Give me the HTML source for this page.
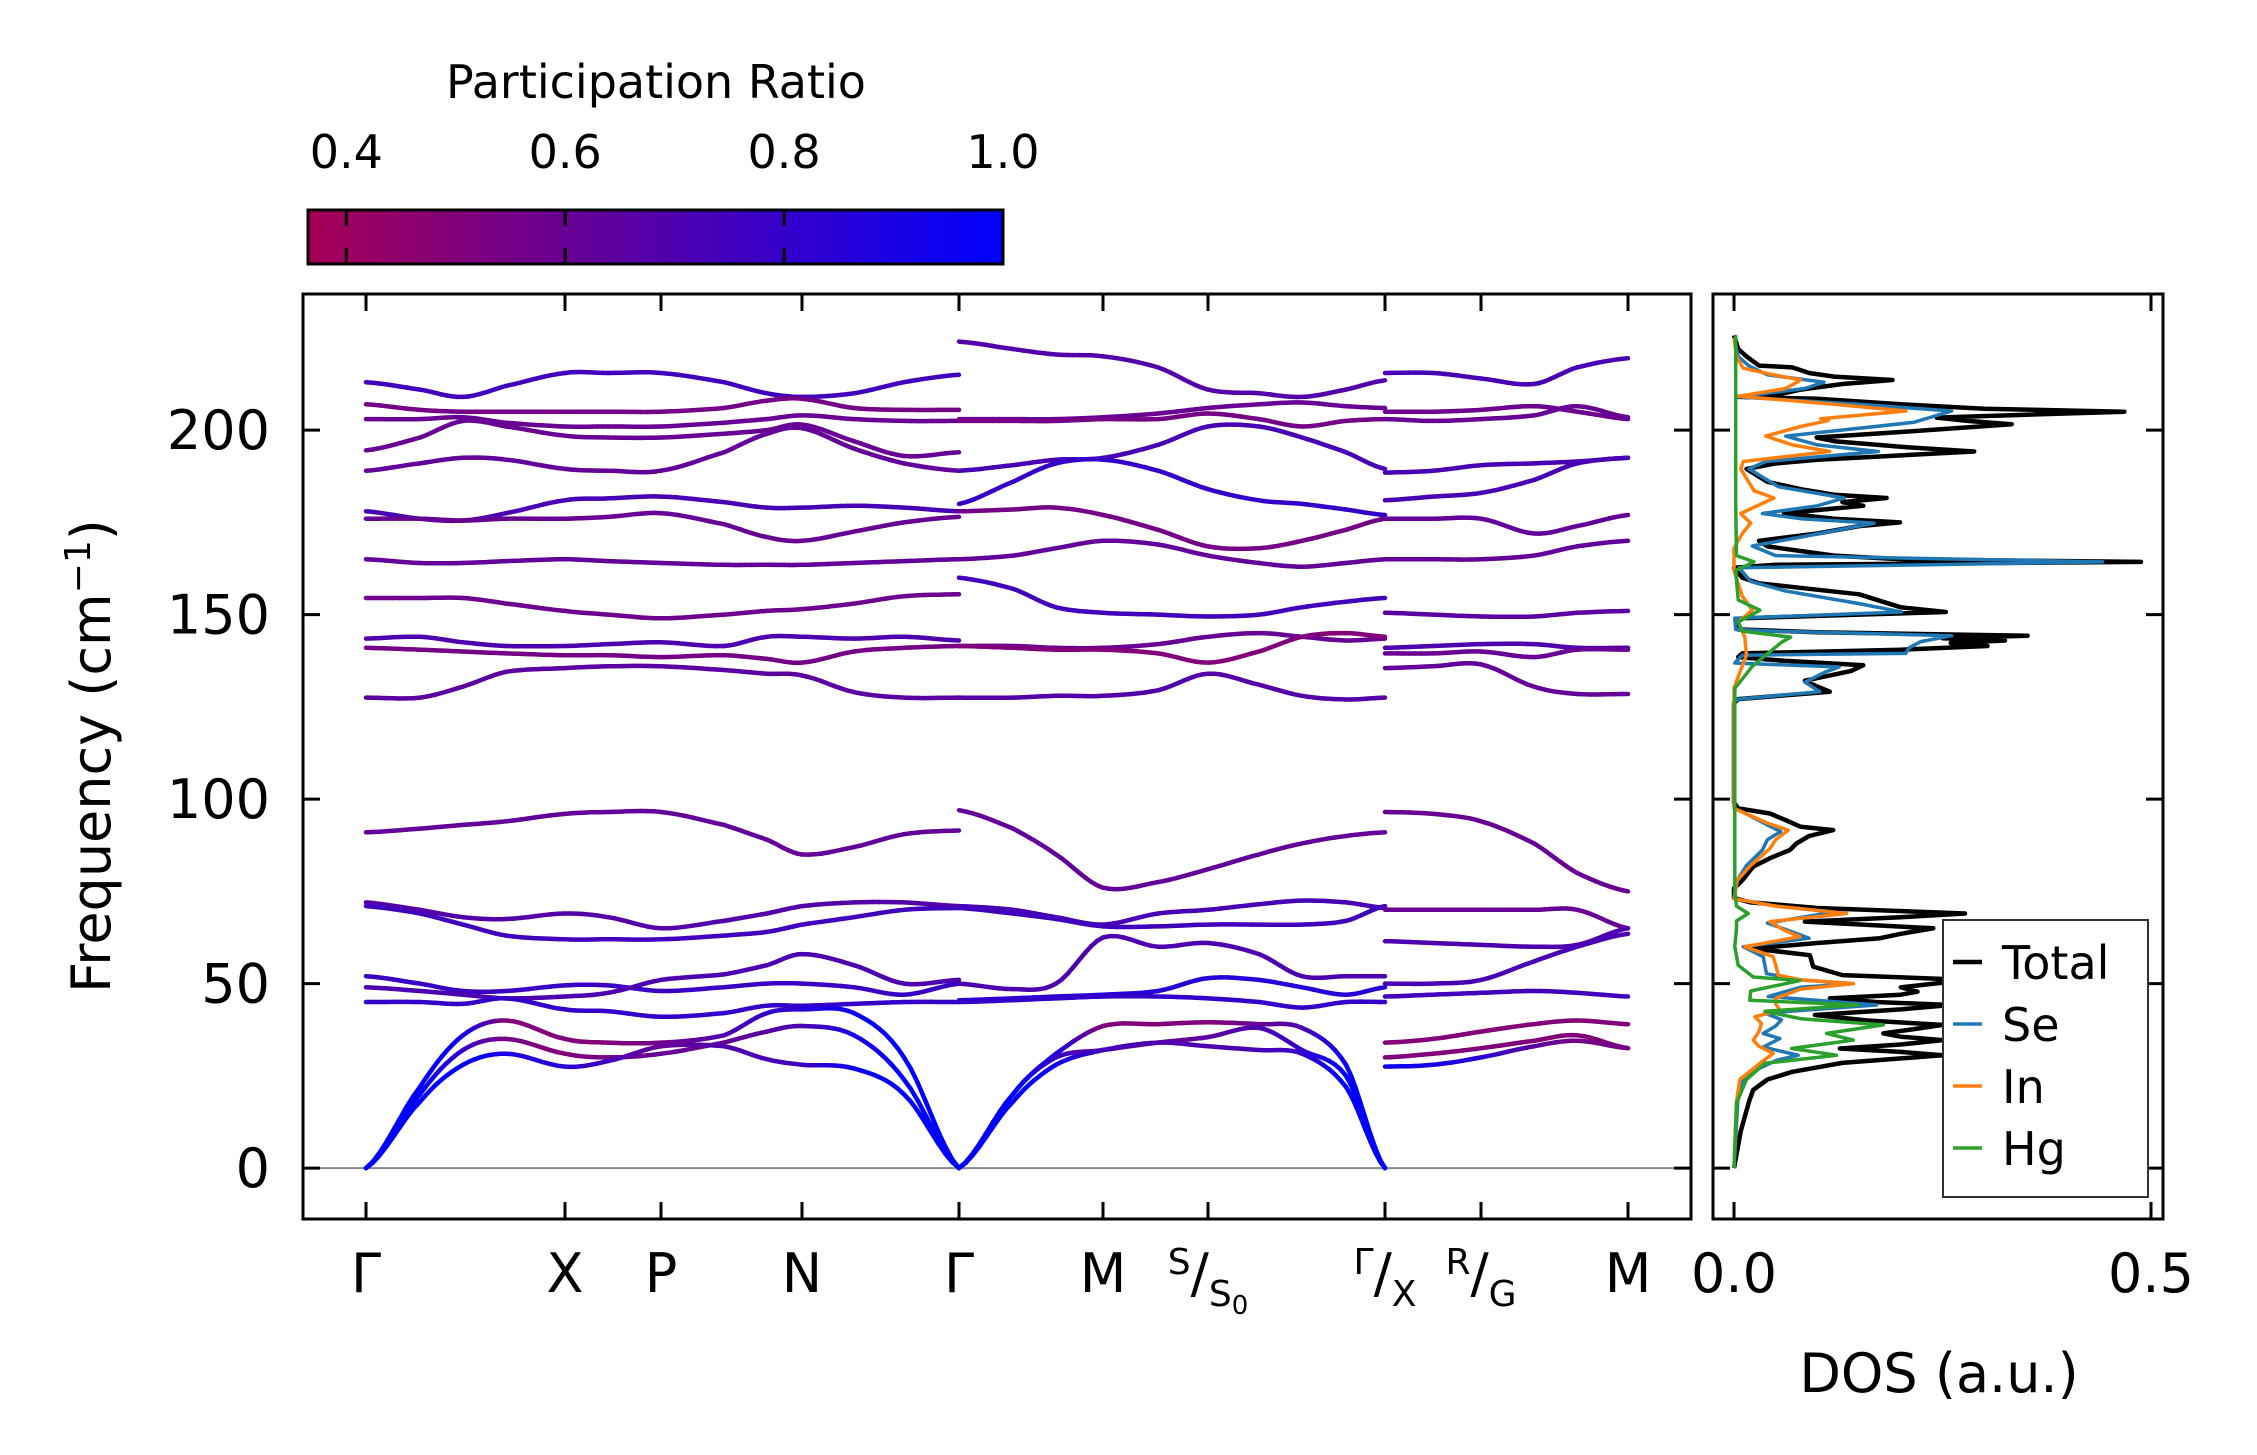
<!DOCTYPE html>
<html><head><meta charset="utf-8"><style>
html,body{margin:0;padding:0;background:#fff;}
svg{display:block;font-family:"DejaVu Sans","Liberation Sans",sans-serif;}
</style></head><body>
<svg id="fig" width="2257" height="1455" viewBox="0 0 2257 1455" xmlns="http://www.w3.org/2000/svg">
<defs><linearGradient id="cbgrad" x1="0" x2="1" y1="0" y2="0"></linearGradient>
<clipPath id="mainclip"><rect x="303" y="294" width="1388" height="925"/></clipPath>
<clipPath id="dosclip"><rect x="1713" y="294" width="450" height="925"/></clipPath></defs>
<g id="colorbar"></g>
<g id="main"></g>
<g id="dos"></g>
</svg>
<script>
// ---------- data ----------
const nodeK = [0, 1.99, 2.95, 4.36, 5.93, 7.37, 8.42, 10.19, 11.15, 12.62];
const nodeLabels = ["Γ","X","P","N","Γ","M","S|S0","Γ|X","R|G","M"];
const yTicks = [0, 50, 100, 150, 200];
const cbTicks = [0.4, 0.6, 0.8, 1.0];
const cbTickLabels = ["0.4","0.6","0.8","1.0"];
const dosTicks = [0.0, 0.5];
const dosTickLabels = ["0.0","0.5"];

const p1K = [0, 0.54, 0.97, 1.40, 1.99, 2.42, 2.95, 3.58, 4.01, 4.36, 4.88, 5.38, 5.93];
const p1Bands = [
 [213,211,209,212,215.5,215.5,215.5,213,210,209,210,213,215],
 [207,205.5,205,205,205,205,205,206,208,208.5,206,205.5,205.5],
 [203,203,203.5,202,201,201,201,202,203,204,203,202.5,202.5],
 [194.5,198,202.5,201,198.5,198,198,199,200,201.5,197,193,194],
 [189,191,192.5,192,189.5,189,189,194,199,200.5,195,191,189],
 [178,176,175.5,177.5,181,181.5,182,180.5,179,179,179.5,179,178],
 [176,176,175.5,176,176,176.5,177.5,174.5,171,170,172.5,175,176.5],
 [165,164,164,164.5,165,164.5,164,163.5,163.5,163.5,164,164.5,165],
 [154.5,154.5,154.5,153,151,150,149,150,151,151.5,153,155,155.5],
 [143.5,144,142.5,141.5,141.5,142,142.5,141.5,144,144,143.5,144,143],
 [141,140.5,140,139.5,139,139,138.5,139,138,137,140,141,141.5],
 [127.5,127.5,130.5,134.5,135.5,136,136,135,134,133.5,129,127.5,127.5],
 [91,92,93,94,96,96.5,96.5,93,89,85,87,90.5,91.5],
 [72,70,68,67.5,69,68,65,67,69,71,72,72,71],
 [71,69,66,63,62,62,62,63,64,66,68,70,70.5],
 [52,50,48,48,49.5,49.5,48,49,50,50,49,47,50],
 [49,48,47,46,46.5,47.5,51,52.5,55,58,55,50,51],
 [45,45,44.5,46,43,42.5,41,42,44,44,44.5,45,45],
 [0,22,36,40,35,34,34,36,42,43,42,30,0],
 [0,20,32,35,31,30,31,34,37,38.5,36,24,0],
 [0,18,28,31,27.5,29,33,33,29.5,28,27,20,0]
];
const p1PR = [0.75,0.55,0.6,0.6,0.62,0.72,0.6,0.62,0.58,0.7,0.55,0.65,0.62,0.68,0.75,0.78,0.7,0.8,
 [1,1,0.95,0.5,0.5,0.5,0.55,0.7,0.8,0.85,0.95,1,1],
 [1,1,0.8,0.55,0.5,0.55,0.6,0.6,0.65,0.7,0.9,1,1],
 [1,1,1,0.9,0.85,0.75,0.6,0.7,0.72,0.75,0.95,1,1]];

const p2K = [5.93, 6.47, 6.90, 7.37, 7.92, 8.42, 8.93, 9.36, 9.80, 10.19];
const p2Bands = [
 [224,222,220.5,220,217,211,210,209,211,213.5],
 [203,203,203,203.5,204.5,206,207,207.5,206.5,206],
 [202.5,202.5,202.5,203,203,204.5,203,201,202.5,203],
 [189,190.5,192,192.5,196,201,201,198,194,189.5],
 [180,186,191,192,189,184,181,180,178.5,177],
 [178,178.5,179,177,173,168.5,168,170,173,176],
 [165,166,168,170,169,166,164,163,164,165],
 [160,157,152,150.5,150,149.5,150,152,153.5,154.5],
 [141.5,141.5,141,141,142,144,145,144,143,143.5],
 [141.5,141,140.5,140.5,139.5,137,140,144,145,144],
 [127.5,127.5,128,128,129.5,134,131,128,127,127.5],
 [97,92,85,76,77.5,81,85,88,90,91],
 [71,70,68,66,69,70,71.5,72.5,72,70.5],
 [70.5,69,67.5,65.5,65.5,66,66,66,67,71],
 [50,48.5,50,62.5,60,61,58,52,52,52],
 [45.5,46,46.5,47,48,51.5,51,49,47,49],
 [45,45.5,46,46.5,46.5,46,45,43.5,45,45],
 [0,20,31,38.5,39,39.5,39,38,28,0],
 [0,20,30,32,34,35.5,38,32,25,0],
 [0,18,28,32,34,33,32,31,22,0]
];
const p2PR = [0.68,0.6,0.55,0.72,0.8,0.55,0.62,0.75,0.6,0.5,0.68,0.62,0.72,0.75,0.7,0.85,0.8,
 [1,1,0.9,0.5,0.5,0.5,0.6,0.7,0.95,1],
 [1,1,0.8,0.6,0.6,0.65,0.7,0.8,1,1],
 [1,1,0.95,0.75,0.7,0.7,0.72,0.8,1,1]];

const p3K = [10.19, 10.67, 11.15, 11.68, 12.11, 12.62];
const p3Bands = [
 [215.5,215.5,214,212.5,217,219.5],
 [205,205,205.5,206.5,205,203],
 [203,202.5,203,204,206.5,203.5],
 [188.5,189,190.5,191,191.5,192.5],
 [181,182,183,186.5,191,192.5],
 [176,176,176,172,174,177],
 [165,165,165,166,168.5,170],
 [150.5,150,149.5,149.5,150.5,151],
 [141,141.5,142,142,141,141],
 [139.5,139.5,140,138.5,140.5,140.5],
 [135.5,136,136.5,130.5,128.5,128.5],
 [96.5,96,94,88,80,75],
 [70,70,70,70,70,65],
 [61.5,61,60.5,60,60.5,65],
 [50,50,51,56,60,63.5],
 [46.5,47,47.5,48,47.5,46.5],
 [34,35,37,39,40,39],
 [30,31,32.5,34.5,36,32.5],
 [27.5,28,30,33,34.5,32.5]
];
const p3PR = [0.72,0.58,0.6,0.72,0.72,0.62,0.62,0.65,0.7,0.6,0.62,0.6,0.6,0.7,0.72,0.75,0.5,0.5,[0.95,0.92,0.85,0.65,0.55,0.55]];

const dosTotal = [[0,0],[10,0.008],[13.9,0.013],[18,0.018],[21.2,0.023],[24,0.04],[26.1,0.07],[28.5,0.13],[30.6,0.25],[31.5,0.2],[32.4,0.127],[33.5,0.2],[34.7,0.25],[35.6,0.2],[36.5,0.179],[37.8,0.22],[38.8,0.25],[40,0.16],[41.5,0.097],[43,0.2],[44.2,0.26],[45,0.17],[46,0.115],[47,0.2],[47.8,0.22],[49,0.2],[50,0.24],[51,0.28],[52.3,0.13],[54.6,0.095],[57.7,0.091],[59.5,0.023],[61,0.1],[62.3,0.175],[63.5,0.2],[65,0.239],[66.8,0.085],[68,0.2],[69,0.277],[70.5,0.1],[72,0.02],[73.2,0],[75.8,0],[78,0.01],[81.7,0.023],[84,0.043],[86.2,0.067],[88,0.075],[90,0.09],[91.6,0.119],[92.5,0.08],[94.4,0.061],[96.1,0.043],[97.5,0.005],[99,0],[126,0],[127.1,0.005],[129.1,0.115],[130.5,0.1],[132.1,0.085],[134.7,0.14],[136.3,0.155],[137.5,0.06],[138.5,0.005],[139.5,0.01],[140.5,0.2],[141.5,0.304],[142.3,0.26],[143,0.325],[143.6,0.25],[144.3,0.352],[145.2,0.1],[146,0.005],[148,0.005],[149,0.01],[150,0.15],[150.7,0.254],[152,0.2],[155.5,0.15],[157,0.09],[158.5,0.03],[160,0.01],[162.7,0],[163.5,0.05],[164.3,0.488],[165,0.2],[166,0.12],[168.5,0.04],[170,0.03],[172,0.1],[174,0.15],[175,0.199],[176,0.12],[177.5,0.06],[179.5,0.155],[180.5,0.13],[181.6,0.183],[182.5,0.12],[184,0.08],[186,0.04],[189.5,0.015],[191,0.05],[192,0.1],[194.2,0.288],[195.5,0.2],[197,0.12],[198,0.099],[199.5,0.2],[201.6,0.333],[202.5,0.28],[203.4,0.243],[204.2,0.35],[205,0.468],[205.8,0.3],[207,0.2],[208.5,0.1],[209,0.005],[209.5,0.05],[211,0.08],[212.5,0.13],[213.6,0.19],[214.5,0.12],[215.5,0.09],[217,0.07],[217.5,0.03],[220,0.015],[222,0.005],[225.7,0]];
const dosSe = [[0,0],[20,0.005],[23.6,0.011],[27,0.03],[29.2,0.051],[30.6,0.077],[32.8,0.035],[35.1,0.055],[36.5,0.035],[38.5,0.05],[40.2,0.057],[42,0.037],[44.2,0.171],[46.5,0.041],[49,0.08],[50,0.143],[51,0.08],[52.7,0.039],[57.3,0.035],[60,0.011],[62.3,0.09],[64,0.07],[66.4,0.04],[69.4,0.12],[71,0.05],[73,0],[78,0.004],[82,0.015],[86.2,0.034],[89,0.04],[91.2,0.056],[93,0.04],[96,0.015],[97.5,0],[126.5,0],[127.1,0.006],[129.1,0.103],[131.7,0.085],[134.5,0.11],[135.8,0.126],[136.9,0.001],[139,0.01],[139.5,0.206],[141,0.21],[142.7,0.224],[144.3,0.261],[145.5,0.05],[146,0.002],[149,0.001],[150.7,0.201],[153,0.15],[156.4,0.062],[159,0.02],[162.7,0.006],[164.3,0.442],[166,0.05],[168.6,0.022],[171,0.08],[174.8,0.168],[176,0.08],[177.4,0.034],[179.5,0.1],[181.6,0.132],[184.7,0.053],[189.5,0.018],[191.5,0.038],[194.2,0.173],[196,0.1],[198.4,0.062],[202.1,0.215],[205.2,0.261],[207,0.15],[209,0.005],[211.3,0.085],[213,0.108],[215,0.04],[217.4,0.018],[220,0.005],[225,0]];
const dosIn = [[0,0],[18,0.003],[24,0.007],[28.4,0.031],[31.1,0.047],[33,0.03],[34.7,0.023],[37,0.03],[39.2,0.033],[41,0.025],[42.8,0.055],[44.5,0.05],[46,0.05],[48.5,0.08],[50,0.143],[51,0.08],[52.3,0.053],[55,0.05],[57.3,0.047],[60,0.013],[62.7,0.079],[64.5,0.06],[66.8,0.043],[69,0.135],[71,0.05],[73,0],[78,0.004],[82,0.02],[86.6,0.043],[89,0.05],[91.6,0.065],[93.5,0.04],[96,0.015],[97.5,0],[130,0],[135,0.008],[139,0.015],[143.9,0.013],[148,0.005],[151.2,0.022],[155,0.01],[162,0],[168,0],[172,0.01],[174.8,0.02],[177.4,0.008],[181.6,0.048],[183.6,0.024],[189.5,0.008],[191.5,0.011],[194.2,0.115],[196,0.07],[198.4,0.038],[201,0.08],[202.6,0.113],[203.1,0.104],[205.2,0.206],[207,0.12],[209.2,0.006],[211.3,0.062],[213.6,0.08],[215.2,0.043],[216.8,0.011],[220,0.003],[225,0]];
const dosHg = [[0,0],[17.6,0.003],[24,0.015],[28.4,0.037],[30.6,0.123],[32.4,0.069],[34.7,0.143],[36.5,0.111],[38.8,0.179],[40.5,0.08],[42.5,0.037],[44.2,0.149],[45.5,0.019],[48,0.02],[50.8,0.079],[51.8,0.023],[55,0.005],[60,0.001],[65,0.003],[67,0.003],[69,0.017],[71,0.003],[75,0.001],[100,0.001],[130,0.001],[136,0.022],[139,0.038],[142.5,0.057],[143.9,0.068],[145.5,0.01],[148,0.005],[151.2,0.031],[154,0.005],[162,0.002],[164.3,0.024],[166,0.003],[180,0.002],[200,0.002],[225.7,0.002]];
const legendNames = ["Total","Se","In","Hg"];
const legendColors = ["#000000","#1f77b4","#ff7f0e","#2ca02c"];

// ---------- scales ----------
const NS = "http://www.w3.org/2000/svg";
const AX = {l:303, r:1691, t:294, b:1219};
const DX = {l:1713, r:2163};
const kMax = 12.62, xK0 = 366, xK1 = 1628;
const fTop = 236.9, fBot = -13.8;
function xk(k){ return xK0 + k/kMax*(xK1-xK0); }
function yf(f){ return AX.t + (fTop-f)/(fTop-fBot)*(AX.b-AX.t); }
function xd(v){ return 1734 + v*(2151-1734)/0.5; }
const cbL=308, cbR=1003, cbT=210, cbB=264, prMin=0.365, prMax=1.0;
function xpr(p){ return cbL + (p-prMin)/(prMax-prMin)*(cbR-cbL); }
function cmap(p){ let t=Math.max(0,Math.min(1,(p-prMin)/(prMax-prMin)));
  return "rgb("+Math.round(165*(1-t))+",0,"+Math.round(85+170*t)+")"; }
function el(tag, attrs, parent){ const e=document.createElementNS(NS,tag);
  for(const a in attrs) e.setAttribute(a, attrs[a]); parent.appendChild(e); return e; }

// ---------- colorbar ----------
const grad=document.getElementById('cbgrad');
for(let i=0;i<=10;i++){ const p=prMin+i/10*(prMax-prMin);
  el('stop',{offset:(i*10)+'%','stop-color':cmap(p)},grad); }
const cb=document.getElementById('colorbar');
const cbRect=el('rect',{x:cbL,y:cbT,width:cbR-cbL,height:cbB-cbT,fill:'url(#cbgrad)',stroke:'#000','stroke-width':3},cb);


cbTicks.forEach((p,i)=>{
  const x=xpr(p);
  if(p<prMax){
    el('line',{x1:x,x2:x,y1:cbT,y2:cbT+16,stroke:'#000','stroke-width':3},cb);
    el('line',{x1:x,x2:x,y1:cbB-16,y2:cbB,stroke:'#000','stroke-width':3},cb);
  }
  const t=el('text',{x:x,y:168,'font-size':46,'text-anchor':'middle'},cb);
  t.textContent=cbTickLabels[i];
  
  
});
const cbt=el('text',{x:656,y:98,'font-size':46,'text-anchor':'middle'},cb);
cbt.textContent="Participation Ratio";



// ---------- main panel ----------
const mg=document.getElementById('main');
el('line',{x1:AX.l,x2:AX.r,y1:yf(0),y2:yf(0),stroke:'#888','stroke-width':2},mg);
const bandG=el('g',{'clip-path':'url(#mainclip)'},mg);


function crPoint(p0,p1,p2,p3,t){ const t2=t*t,t3=t2*t;
  return 0.5*((2*p1)+(-p0+p2)*t+(2*p0-5*p1+4*p2-p3)*t2+(-p0+3*p1-3*p2+p3)*t3); }
function drawPanel(ks, bands, prs){
  bands.forEach((b,bi)=>{
    const g=el('g',{},bandG);
    
    
    const pr=prs[bi]; const n=b.length;
    for(let i=0;i<n-1;i++){
      const f0=b[Math.max(0,i-1)], f1=b[i], f2=b[i+1], f3=b[Math.min(n-1,i+2)];
      const pA=Array.isArray(pr)?pr[i]:pr, pB=Array.isArray(pr)?pr[i+1]:pr;
      const sub=8;
      for(let s=0;s<sub;s++){
        const ta=s/sub, tb=(s+1)/sub;
        const ka=ks[i]+(ks[i+1]-ks[i])*ta, kb=ks[i]+(ks[i+1]-ks[i])*tb;
        const fa=crPoint(f0,f1,f2,f3,ta), fb=crPoint(f0,f1,f2,f3,tb);
        const pm=pA+(pB-pA)*(ta+tb)/2;
        el('line',{x1:xk(ka).toFixed(1),y1:yf(fa).toFixed(1),x2:xk(kb).toFixed(1),y2:yf(fb).toFixed(1),
          stroke:cmap(pm),'stroke-width':4.5,'stroke-linecap':'round'},g);
      }
    }
  });
}
drawPanel(p1K,p1Bands,p1PR);
drawPanel(p2K,p2Bands,p2PR);
drawPanel(p3K,p3Bands,p3PR);

const frame=el('rect',{x:AX.l,y:AX.t,width:AX.r-AX.l,height:AX.b-AX.t,fill:'none',stroke:'#000','stroke-width':3},mg);


nodeK.forEach((k,i)=>{
  const x=xk(k);
  el('line',{x1:x,x2:x,y1:AX.t,y2:AX.t+17,stroke:'#000','stroke-width':3},mg);
  el('line',{x1:x,x2:x,y1:AX.b-17,y2:AX.b,stroke:'#000','stroke-width':3},mg);
  const lab=nodeLabels[i];
  const t=el('text',{x:x,y:1292,'font-size':54,'text-anchor':'middle'},mg);
  
  
  if(lab.indexOf('|')<0){ t.textContent=lab; }
  else {
    const parts=lab.split('|');
    const a=el('tspan',{'font-size':36,dy:-18},t); a.textContent=parts[0];
    const sl=el('tspan',{'font-size':54,dy:18},t); sl.textContent="/";
    let sb=parts[1], sub0="";
    if(sb.length>1){ sub0=sb.slice(1); sb=sb[0]; }
    const b=el('tspan',{'font-size':36,dy:14},t); b.textContent=sb;
    if(sub0){ const c=el('tspan',{'font-size':26,dy:8},t); c.textContent=sub0; }
  }
});
yTicks.forEach(f=>{
  const y=yf(f);
  el('line',{x1:AX.l,x2:AX.l+17,y1:y,y2:y,stroke:'#000','stroke-width':3},mg);
  el('line',{x1:AX.r-17,x2:AX.r,y1:y,y2:y,stroke:'#000','stroke-width':3},mg);
  const t=el('text',{x:270,y:y+19,'font-size':54,'text-anchor':'end'},mg);
  t.textContent=String(f);
  
  
});
const yl=el('text',{x:0,y:0,'font-size':54,'text-anchor':'middle',transform:'translate(110,756) rotate(-90)'},mg);


yl.appendChild(document.createTextNode("Frequency (cm"));
const sup=el('tspan',{'font-size':36,dy:-20},yl); sup.textContent="−1";
const cl=el('tspan',{dy:20},yl); cl.textContent=")";

// ---------- DOS panel ----------
const dg=document.getElementById('dos');
const dosLines=el('g',{'clip-path':'url(#dosclip)'},dg);
[dosTotal,dosSe,dosIn,dosHg].forEach((s,i)=>{
  const pts=s.map(p=>xd(p[1]).toFixed(1)+","+yf(p[0]).toFixed(1)).join(" ");
  const pl=el('polyline',{points:pts,fill:'none',stroke:legendColors[i],'stroke-width':i==0?4.5:3.5,'stroke-linejoin':'round'},dosLines);
  
  
});
const dframe=el('rect',{x:DX.l,y:AX.t,width:DX.r-DX.l,height:AX.b-AX.t,fill:'none',stroke:'#000','stroke-width':3},dg);


dosTicks.forEach((v,i)=>{
  const x=xd(v);
  el('line',{x1:x,x2:x,y1:AX.t,y2:AX.t+17,stroke:'#000','stroke-width':3},dg);
  el('line',{x1:x,x2:x,y1:AX.b-17,y2:AX.b,stroke:'#000','stroke-width':3},dg);
  const t=el('text',{x:x,y:1292,'font-size':54,'text-anchor':'middle'},dg);
  t.textContent=dosTickLabels[i];
  
  
});
yTicks.forEach(f=>{
  const y=yf(f);
  el('line',{x1:DX.l,x2:DX.l+17,y1:y,y2:y,stroke:'#000','stroke-width':3},dg);
  el('line',{x1:DX.r-17,x2:DX.r,y1:y,y2:y,stroke:'#000','stroke-width':3},dg);
});
const dl=el('text',{x:1939,y:1392,'font-size':54,'text-anchor':'middle'},dg);
dl.textContent="DOS (a.u.)";


// legend
const lg=el('g',{},dg);


el('rect',{x:1943,y:920,width:205,height:277,fill:'#fff',stroke:'#333','stroke-width':2},lg);
legendNames.forEach((n,i)=>{
  const y=962+i*62;
  const e=el('g',{},lg);
  
  
  el('line',{x1:1953,x2:1982,y1:y,y2:y,stroke:legendColors[i],'stroke-width':i==0?4.5:3.5},e);
  const t=el('text',{x:2002,y:y+17,'font-size':46},e);
  t.textContent=n;
});
</script>
</body></html>
